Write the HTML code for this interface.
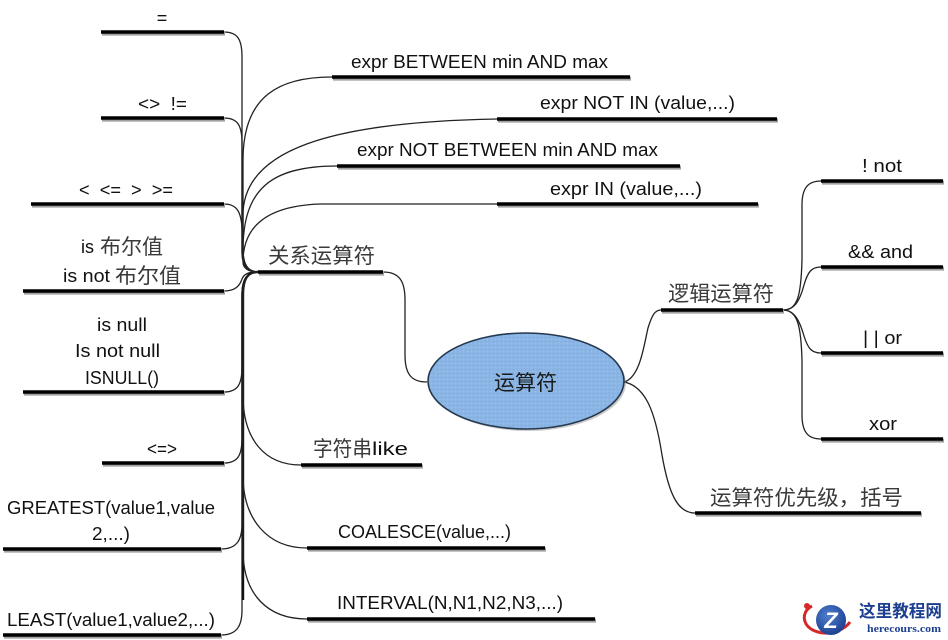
<!DOCTYPE html>
<html>
<head>
<meta charset="utf-8">
<style>
html,body{margin:0;padding:0;background:#fff;}
body{width:948px;height:640px;overflow:hidden;}
svg{display:block;}
text{white-space:pre;}
.l{font-family:"Liberation Sans","Noto Sans CJK SC",sans-serif;font-size:18px;fill:#111;}
.c{font-family:"Liberation Sans","Noto Sans CJK SC",sans-serif;font-size:21px;fill:#3a3a3a;}
.w{fill:none;stroke:#222;stroke-width:1.3;}
.sh{stroke:#a0a0a0;stroke-width:4;}
.bar{stroke:#000;stroke-width:3.6;}
</style>
</head>
<body>
<svg width="948" height="640" viewBox="0 0 948 640" xmlns="http://www.w3.org/2000/svg">
<defs>
<pattern id="dots" width="4" height="4" patternUnits="userSpaceOnUse">
<rect width="4" height="4" fill="#8ab5e4"/>
<rect x="1" y="1" width="1" height="1" fill="#7aa6d8"/>
<rect x="3" y="3" width="1" height="1" fill="#9cc2ec"/>
</pattern>
<radialGradient id="lg" cx="40%" cy="35%" r="70%">
<stop offset="0" stop-color="#4f7fd0"/>
<stop offset="1" stop-color="#1b3d8e"/>
</radialGradient>
</defs>
<rect width="948" height="640" fill="#fff"/>

<!-- connectors: left bars to trunk -->
<path class="w" d="M224 32 C238 32,242 40,242 57 L242 250 C242 265,246 271,258 272"/>
<path class="w" d="M224 118 C238 118,242 126,242 143 L242 252 C242 265,246 271,258 272"/>
<path class="w" d="M224 204 C237 204,241 212,242 228 L243 255 C244 266,248 271,258 272"/>
<path class="w" d="M224 291 C236 291,240 285,242 279 C244 274,248 272,258 272"/>
<path class="w" d="M258 272 C248 272,242 278,242 295 L242 367 C242 384,238 392,224 392"/>
<path class="w" d="M258 272 C248 272,242 278,242 295 L242 438 C242 455,238 463,224 463"/>
<path class="w" d="M258 272 C248 272,242 278,242 295 L242 524 C242 541,236 549,221 549"/>
<path class="w" d="M258 272 C248 272,242 278,242 295 L242 610 C242 627,236 635,221 635"/>
<path d="M258 272 C248 272,243 278,243 295 L243 600" fill="none" stroke="#111" stroke-width="2.4"/>

<!-- connectors: trunk to right upper bars -->
<path class="w" d="M258 272 C248 272,243 265,243 250 L243 160 C243 95,280 77,332 77"/>
<path class="w" d="M258 272 C248 272,243 265,243 250 L243 215 C243 150,330 122,497 119"/>
<path class="w" d="M258 272 C248 272,243 265,243 250 C243 190,270 166,337 166"/>
<path class="w" d="M258 272 C248 272,243 268,243 262 C243 230,262 206,320 204 L497 204"/>

<!-- trunk to right lower bars -->
<path class="w" d="M258 272 C248 272,243 280,243 295 L243 395 C243 440,265 465,301 465"/>
<path class="w" d="M258 272 C248 272,243 280,243 295 L243 475 C243 520,268 548,307 548"/>
<path class="w" d="M258 272 C248 272,243 280,243 295 L243 550 C243 595,268 619,307 619"/>

<path class="w" d="M383 272 C400 272,405 282,405 300 L405 355 C405 375,412 382,427 382"/>
<path class="w" d="M624 382 C640 378,644 345,648 328 C652 315,655 310,661 310"/>
<path class="w" d="M624 382 C645 386,655 410,662 455 C669 495,678 513,695 513"/>
<path class="w" d="M783 310 C798 310,801 295,802 260 L802 205 C802 188,808 181,821 181"/>
<path class="w" d="M783 310 C795 310,800 300,804 285 C808 271,812 267,821 267"/>
<path class="w" d="M783 310 C795 310,800 322,804 336 C808 349,812 353,821 353"/>
<path class="w" d="M783 310 C798 310,801 327,802 360 L802 415 C802 432,808 439,821 439"/>

<g class="sh" transform="translate(1,1.6)">
<line x1="101" y1="32" x2="224" y2="32"/>
<line x1="101" y1="118" x2="224" y2="118"/>
<line x1="31" y1="204" x2="224" y2="204"/>
<line x1="23" y1="291" x2="224" y2="291"/>
<line x1="23" y1="392" x2="224" y2="392"/>
<line x1="102" y1="463" x2="224" y2="463"/>
<line x1="3" y1="549" x2="221" y2="549"/>
<line x1="3" y1="635" x2="221" y2="635"/>
<line x1="332" y1="77" x2="630" y2="77"/>
<line x1="497" y1="119" x2="777" y2="119"/>
<line x1="337" y1="166" x2="680" y2="166"/>
<line x1="497" y1="204" x2="758" y2="204"/>
<line x1="258" y1="272" x2="383" y2="272"/>
<line x1="301" y1="465" x2="422" y2="465"/>
<line x1="307" y1="548" x2="545" y2="548"/>
<line x1="307" y1="619" x2="595" y2="619"/>
<line x1="661" y1="310" x2="783" y2="310"/>
<line x1="821" y1="181" x2="943" y2="181"/>
<line x1="821" y1="267" x2="943" y2="267"/>
<line x1="821" y1="353" x2="943" y2="353"/>
<line x1="821" y1="439" x2="943" y2="439"/>
<line x1="695" y1="513" x2="921" y2="513"/>
</g>
<g class="bar">
<line x1="101" y1="32" x2="224" y2="32"/>
<line x1="101" y1="118" x2="224" y2="118"/>
<line x1="31" y1="204" x2="224" y2="204"/>
<line x1="23" y1="291" x2="224" y2="291"/>
<line x1="23" y1="392" x2="224" y2="392"/>
<line x1="102" y1="463" x2="224" y2="463"/>
<line x1="3" y1="549" x2="221" y2="549"/>
<line x1="3" y1="635" x2="221" y2="635"/>
<line x1="332" y1="77" x2="630" y2="77"/>
<line x1="497" y1="119" x2="777" y2="119"/>
<line x1="337" y1="166" x2="680" y2="166"/>
<line x1="497" y1="204" x2="758" y2="204"/>
<line x1="258" y1="272" x2="383" y2="272"/>
<line x1="301" y1="465" x2="422" y2="465"/>
<line x1="307" y1="548" x2="545" y2="548"/>
<line x1="307" y1="619" x2="595" y2="619"/>
<line x1="661" y1="310" x2="783" y2="310"/>
<line x1="821" y1="181" x2="943" y2="181"/>
<line x1="821" y1="267" x2="943" y2="267"/>
<line x1="821" y1="353" x2="943" y2="353"/>
<line x1="821" y1="439" x2="943" y2="439"/>
<line x1="695" y1="513" x2="921" y2="513"/>
</g>

<ellipse cx="526" cy="381" rx="98" ry="48" fill="#9a9a9a" opacity="0.5" transform="translate(2,2)"/>
<ellipse cx="526" cy="381" rx="98" ry="48" fill="url(#dots)" stroke="#24384f" stroke-width="1.6"/>
<text class="c" x="494" y="390" font-size="21" textLength="63" lengthAdjust="spacingAndGlyphs" style="fill:#1a1a1a">运算符</text>

<text class="l" x="162" y="24" text-anchor="middle" font-size="20">=</text>
<text class="l" x="138" y="110" textLength="49" lengthAdjust="spacingAndGlyphs">&lt;&gt;  !=</text>
<text class="l" x="79" y="196" textLength="94" lengthAdjust="spacingAndGlyphs">&lt;  &lt;=  &gt;  &gt;=</text>
<text class="l" x="81" y="253" textLength="13" lengthAdjust="spacingAndGlyphs">is</text>
<text class="c" x="100" y="254" textLength="63" lengthAdjust="spacingAndGlyphs">布尔值</text>
<text class="l" x="63" y="282" textLength="47" lengthAdjust="spacingAndGlyphs">is not</text>
<text class="c" x="115" y="283" textLength="66" lengthAdjust="spacingAndGlyphs">布尔值</text>
<text class="l" x="97" y="331" textLength="50" lengthAdjust="spacingAndGlyphs">is null</text>
<text class="l" x="75" y="357" textLength="85" lengthAdjust="spacingAndGlyphs">Is not null</text>
<text class="l" x="85" y="384" textLength="74" lengthAdjust="spacingAndGlyphs">ISNULL()</text>
<text class="l" x="147" y="455" textLength="30" lengthAdjust="spacingAndGlyphs">&lt;=&gt;</text>
<text class="l" x="7" y="514" textLength="208" lengthAdjust="spacingAndGlyphs">GREATEST(value1,value</text>
<text class="l" x="92" y="540" textLength="38" lengthAdjust="spacingAndGlyphs">2,...)</text>
<text class="l" x="7" y="626" textLength="208" lengthAdjust="spacingAndGlyphs">LEAST(value1,value2,...)</text>

<text class="l" x="351" y="68" textLength="257" lengthAdjust="spacingAndGlyphs">expr BETWEEN min AND max</text>
<text class="l" x="540" y="109" textLength="195" lengthAdjust="spacingAndGlyphs">expr NOT IN (value,...)</text>
<text class="l" x="357" y="156" textLength="301" lengthAdjust="spacingAndGlyphs">expr NOT BETWEEN min AND max</text>
<text class="l" x="550" y="195" textLength="152" lengthAdjust="spacingAndGlyphs">expr IN (value,...)</text>

<text class="c" x="268" y="263" textLength="107" lengthAdjust="spacingAndGlyphs">关系运算符</text>
<text class="c" x="313" y="456" font-size="20" textLength="59" lengthAdjust="spacingAndGlyphs">字符串</text>
<text class="l" x="372" y="455" textLength="36" lengthAdjust="spacingAndGlyphs">like</text>
<text class="l" x="338" y="538" textLength="173" lengthAdjust="spacingAndGlyphs">COALESCE(value,...)</text>
<text class="l" x="337" y="609" textLength="226" lengthAdjust="spacingAndGlyphs">INTERVAL(N,N1,N2,N3,...)</text>

<text class="c" x="668" y="301" textLength="106" lengthAdjust="spacingAndGlyphs">逻辑运算符</text>
<text class="l" x="862" y="172" textLength="40" lengthAdjust="spacingAndGlyphs">! not</text>
<text class="l" x="848" y="258" textLength="65" lengthAdjust="spacingAndGlyphs">&amp;&amp; and</text>
<text class="l" x="863" y="344" textLength="39" lengthAdjust="spacingAndGlyphs">| | or</text>
<text class="l" x="869" y="430" textLength="28" lengthAdjust="spacingAndGlyphs">xor</text>
<text class="c" x="710" y="505" textLength="193" lengthAdjust="spacingAndGlyphs">运算符优先级，括号</text>

<path d="M812 606 C800 612,802 628,818 632 C832 636,846 628,850 622" fill="none" stroke="#d42a2a" stroke-width="3"/>
<circle cx="807" cy="606" r="3" fill="#d42a2a"/>
<circle cx="831" cy="620" r="15" fill="url(#lg)"/>
<text x="831" y="628" text-anchor="middle" font-family="Liberation Sans, sans-serif" font-size="22" font-weight="bold" font-style="italic" fill="#fff">Z</text>
<text x="859" y="617" font-family="Liberation Sans, Noto Sans CJK SC, sans-serif" font-size="17" font-weight="bold" fill="#1d3f8f" textLength="83" lengthAdjust="spacingAndGlyphs">这里教程网</text>
<text x="867" y="632" font-family="Liberation Serif, serif" font-size="11" font-weight="bold" fill="#1d3f8f" textLength="74" lengthAdjust="spacingAndGlyphs">herecours.com</text>
</svg>
</body>
</html>
